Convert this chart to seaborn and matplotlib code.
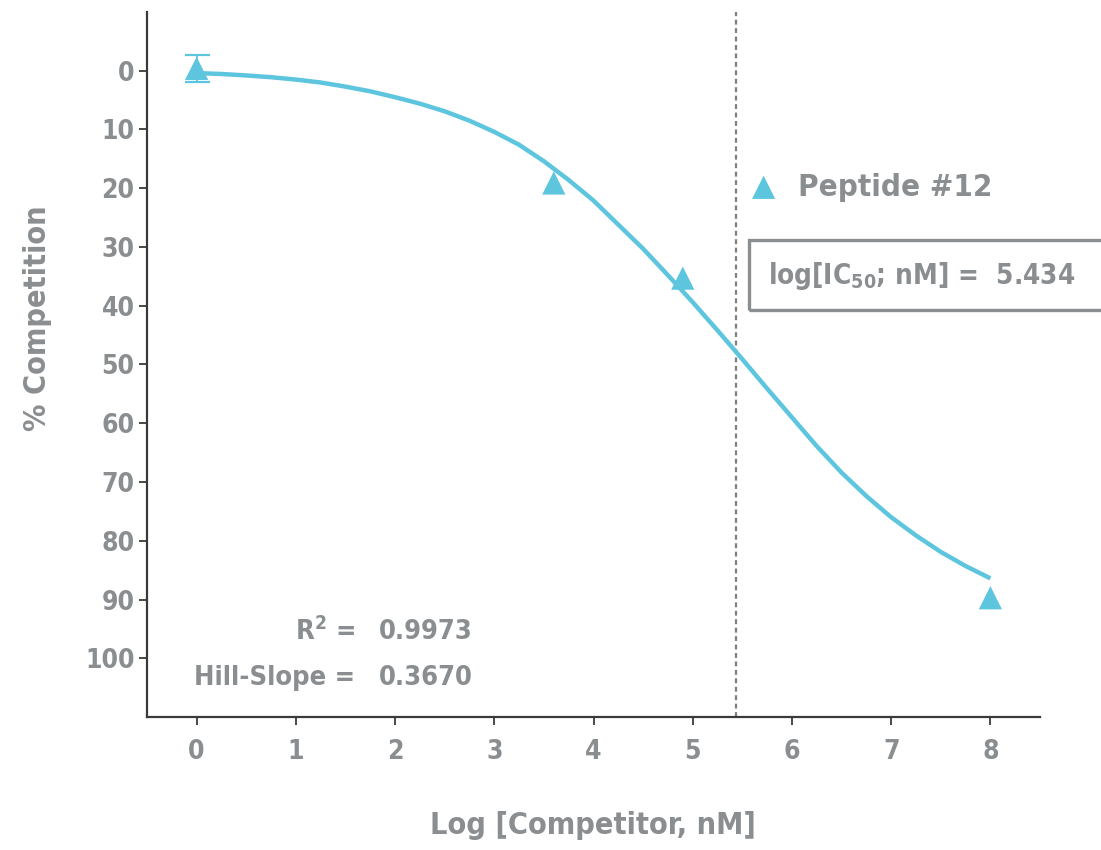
import numpy as np
import pandas as pd
import matplotlib
matplotlib.use("Agg")
import matplotlib.pyplot as plt
from matplotlib.patches import Rectangle
import seaborn as sns

# ---------------- data ----------------
series_name = "Peptide #12"
log_conc = [0.0, 3.6, 4.9, 8.0]
competition = [-0.4, 19.1, 35.3, 89.7]
competition_err = [2.3, 0.0, 0.0, 0.0]

fit_x = [0.0, 0.25, 0.5, 0.75, 1.0, 1.25, 1.5, 1.75, 2.0, 2.25, 2.5, 2.75,
         3.0, 3.25, 3.5, 3.75, 4.0, 4.25, 4.5, 4.75, 5.0, 5.25, 5.5, 5.75,
         6.0, 6.25, 6.5, 6.75, 7.0, 7.25, 7.5, 7.75, 8.0]
fit_y = [0.4, 0.55, 0.8, 1.1, 1.5, 2.0, 2.7, 3.5, 4.5, 5.6, 6.9, 8.5,
         10.4, 12.6, 15.4, 18.6, 22.1, 26.2, 30.3, 34.8, 39.4, 44.2, 49.1, 54.1,
         59.0, 63.9, 68.4, 72.4, 76.0, 79.1, 81.9, 84.3, 86.4]

ic50_log = 5.434
r_squared = "0.9973"
hill_slope = "0.3670"

x_ticks = [0, 1, 2, 3, 4, 5, 6, 7, 8]
y_ticks = [0, 10, 20, 30, 40, 50, 60, 70, 80, 90, 100]

# ---------------- style ----------------
CYAN = "#5ec5de"
GRAY = "#8b8e90"
DARK = "#3a3a3a"

sns.set_theme(style="ticks")
plt.rcParams['font.family'] = ['DejaVu Sans']
plt.rcParams['font.stretch'] = 'condensed'
plt.rcParams['mathtext.default'] = 'regular'

W, H = 1101, 850
fig = plt.figure(figsize=(W / 100, H / 100), dpi=100)
ax = fig.add_axes([147 / W, 1 - 717 / H, (1040 - 147) / W, (717 - 12) / H])

df_fit = pd.DataFrame({"x": fit_x, "y": fit_y})
df_pts = pd.DataFrame({"x": log_conc, "y": competition, "err": competition_err})

sns.lineplot(data=df_fit, x="x", y="y", ax=ax, color=CYAN, linewidth=3.2,
             zorder=2, legend=False, solid_joinstyle="round",
             solid_capstyle="butt")

err_pts = df_pts[df_pts["err"] > 0]
ax.errorbar(err_pts["x"], err_pts["y"], yerr=err_pts["err"], fmt="none",
            ecolor=CYAN, elinewidth=1.3, capsize=9, capthick=1.6, zorder=3)

sns.scatterplot(data=df_pts, x="x", y="y", ax=ax, marker="^", s=280,
                color=CYAN, edgecolor="none", linewidth=0, zorder=4,
                label=series_name)

ax.axvline(ic50_log, color="#7f7f7f", linewidth=1.6,
           linestyle=(0, (2.2, 1.6)), zorder=1)

ax.set_xlim(-0.5, 8.5)
ax.set_ylim(110, -10)
ax.set_xticks(x_ticks)
ax.set_yticks(y_ticks)

for side in ["top", "right"]:
    ax.spines[side].set_visible(False)
for side in ["left", "bottom"]:
    ax.spines[side].set_color(DARK)
    ax.spines[side].set_linewidth(1.6)

ax.tick_params(axis="both", direction="out", length=6, width=1.3,
               color=DARK, labelcolor=GRAY, labelsize=19)
ax.tick_params(axis="x", pad=10)
ax.tick_params(axis="y", pad=3)
for lab in ax.get_xticklabels() + ax.get_yticklabels():
    lab.set_fontweight("bold")

ax.set_xlabel("Log [Competitor, nM]", fontsize=22, fontweight="bold", color=GRAY)
ax.set_ylabel("% Competition", fontsize=22, fontweight="bold", color=GRAY)
ax.xaxis.set_label_coords(0.4995, -0.133)
ax.yaxis.set_label_coords(-0.106, 0.566)

leg = ax.legend(loc="center left", bbox_to_anchor=(748 / W, 1 - 187 / H),
                bbox_transform=fig.transFigure, frameon=False,
                borderaxespad=0, borderpad=0, handlelength=1.0,
                handletextpad=0.6, prop={"weight": "bold", "size": 22.5},
                labelcolor=GRAY)

# IC50 box (runs off the right edge)
fig.add_artist(Rectangle((749 / W, 1 - 310 / H), (1120 - 749) / W, 70 / H,
                         transform=fig.transFigure, fill=False,
                         edgecolor=GRAY, linewidth=2.4, clip_on=False))
fig.text(768 / W, 1 - 276 / H, "log[IC$_{50}$; nM] =  " + f"{ic50_log:.3f}",
         ha="left", va="center", fontsize=20, fontweight="bold", color=GRAY)

# statistics
stat_kw = dict(fontsize=19.5, fontweight="bold", color=GRAY, va="center")
ax.text(1.60, 95.5, "R$^2$ =", ha="right", **stat_kw)
ax.text(1.84, 95.5, r_squared, ha="left", **stat_kw)
ax.text(1.60, 103.3, "Hill-Slope =", ha="right", **stat_kw)
ax.text(1.84, 103.3, hill_slope, ha="left", **stat_kw)

fig.savefig("out.png", dpi=100)
